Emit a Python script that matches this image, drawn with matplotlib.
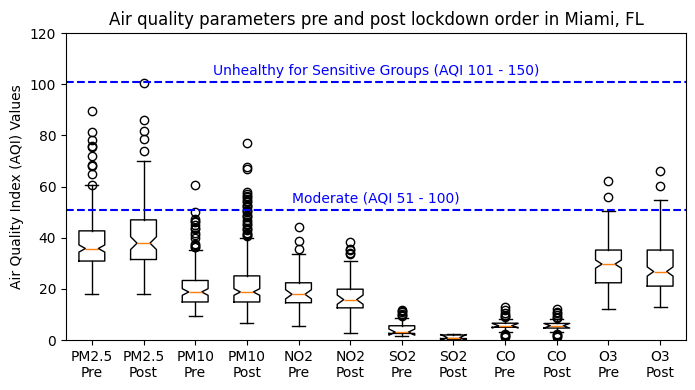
import matplotlib
matplotlib.use("Agg")
import matplotlib.pyplot as plt

# box statistics (AQI values)
labels = ["PM2.5\nPre", "PM2.5\nPost", "PM10\nPre", "PM10\nPost", "NO2\nPre", "NO2\nPost",
          "SO2\nPre", "SO2\nPost", "CO\nPre", "CO\nPost", "O3\nPre", "O3\nPost"]
q1 = [30.9, 31.5, 14.9, 14.9, 14.6, 12.6, 2.6, 0.6, 5.0, 4.7, 22.4, 21.1]
med = [35.8, 37.9, 18.8, 18.8, 17.9, 15.8, 3.1, 1.0, 5.6, 5.6, 29.7, 26.8]
q3 = [42.7, 47.0, 23.3, 25.1, 22.4, 19.9, 5.6, 2.0, 6.6, 6.5, 35.2, 35.2]
whislo = [17.9, 17.9, 9.3, 6.5, 5.7, 2.6, 1.6, 0.3, 3.0, 3.0, 12.0, 12.8]
whishi = [60.8, 70.0, 35.2, 40.1, 33.6, 30.8, 8.5, 2.4, 8.4, 8.4, 50.3, 54.7]
notch_half = [1.4, 2.5, 1.3, 1.3, 1.8, 1.8, 1.2, 1.2, 0.9, 0.9, 1.6, 1.8]
fliers = [
    [89.5, 81.3, 78.2, 76.0, 75.3, 71.9, 68.4, 68.0, 64.8, 60.8],
    [100.5, 85.9, 81.7, 78.8, 74.1],
    [60.5, 50.2, 47.5, 46.5, 46.0, 45.0, 44.0, 43.5, 42.0, 41.0, 40.0, 37.5, 37.0, 36.5, 36.2],
    [77.2, 67.5, 66.8, 58.0, 57.0, 56.5, 56.0, 55.0, 54.5, 54.0, 53.0, 52.5, 52.0, 51.0,
     50.5, 50.0, 49.0, 48.5, 48.0, 47.0, 46.0, 45.5, 45.0, 44.0, 43.5, 43.0, 42.0, 41.5,
     41.0, 40.5],
    [44.3, 38.8, 35.7],
    [38.4, 35.8, 35.2, 34.1, 33.5],
    [11.7, 11.2, 10.8, 10.3, 9.8, 9.3],
    [],
    [12.8, 11.7, 10.7, 10.0, 9.4, 8.9, 2.5, 2.0, 1.6, 1.3],
    [12.0, 11.0, 10.4, 9.8, 9.2, 8.8, 2.5, 2.0, 1.6, 1.3],
    [62.2, 55.9],
    [66.0, 60.2],
]

limit_levels = [101, 51]
limit_labels = ["Unhealthy for Sensitive Groups (AQI 101 - 150)", "Moderate (AQI 51 - 100)"]

stats = []
for i, lab in enumerate(labels):
    stats.append({
        "label": lab, "q1": q1[i], "med": med[i], "q3": q3[i],
        "whislo": whislo[i], "whishi": whishi[i],
        "cilo": med[i] - notch_half[i], "cihi": med[i] + notch_half[i],
        "fliers": fliers[i],
    })

fig = plt.figure(figsize=(6.95, 3.9), dpi=100)
ax = fig.add_axes([0.095, 0.128, 0.892, 0.787])

ax.bxp(stats, shownotches=True, showfliers=True)

for level, text in zip(limit_levels, limit_labels):
    ax.axhline(level, color="blue", linestyle="--")
    ax.text(6.5, level + 1.5, text, color="blue", ha="center", va="bottom", fontsize=10)

ax.set_ylim(0, 120)
ax.set_ylabel("Air Quality Index (AQI) Values")
ax.set_title("Air quality parameters pre and post lockdown order in Miami, FL")

fig.savefig("out.png", dpi=100)
